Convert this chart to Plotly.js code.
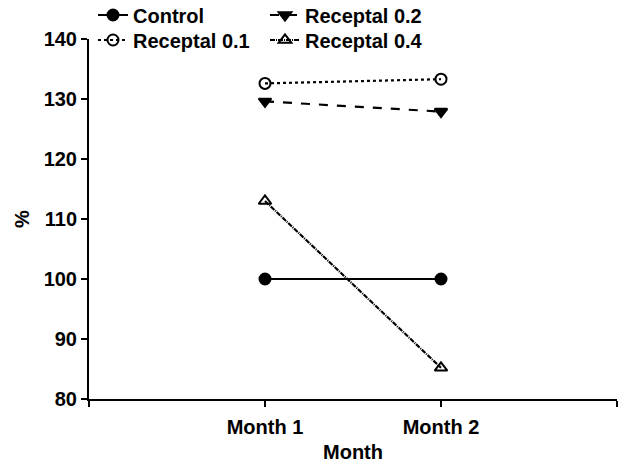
<!DOCTYPE html>
<html>
<head>
<meta charset="utf-8">
<script src="https://cdn.plot.ly/plotly-3.0.1.min.js"></script>
<style>html,body{margin:0;padding:0;background:#fff;}#chart{width:618px;height:466px;}</style>
</head>
<body>
<div id="chart"></div>
<script>
const months = ["Month 1", "Month 2"];
const control = [100, 100];
const receptal01 = [132.6, 133.3];
const receptal02 = [129.6, 127.9];
const receptal04 = [113.0, 85.2];
const yTicks = [80, 90, 100, 110, 120, 130, 140];

const xIdx = months.map((_, i) => i);
const FONT = {family: "Arial, 'Liberation Sans', sans-serif", size: 20, color: "#000", weight: "bold"};

function tr(name, y, dash, symbol, legend) {
  return {
    x: xIdx, y: y, name: name, type: "scatter", mode: "lines+markers",
    line: {color: "#000", width: 2.2, dash: dash},
    marker: {symbol: symbol, size: 11, color: "#000", line: {color: "#000", width: 2}},
    legend: legend
  };
}

const data = [
  tr("Control", control, "solid", "circle", "legend"),
  tr("Receptal 0.2", receptal02, "dash", "triangle-down", "legend"),
  tr("Receptal 0.1", receptal01, "dot", "circle-open", "legend2"),
  tr("Receptal 0.4", receptal04, "5px,1px,1px,1px", "triangle-up-open", "legend2")
];

const legendBase = {
  orientation: "h", xref: "container", yref: "container", xanchor: "left", yanchor: "middle",
  x: 93/618, entrywidth: 127, itemwidth: 30, font: FONT,
  bgcolor: "rgba(0,0,0,0)", borderwidth: 0, tracegroupgap: 0
};

const layout = {
  width: 618, height: 466,
  margin: {l: 89, r: 1, t: 39, b: 67, autoexpand: false},
  paper_bgcolor: "#fff", plot_bgcolor: "#fff",
  font: FONT,
  showlegend: true,
  legend: Object.assign({}, legendBase, {y: 1 - 15/466}),
  legend2: Object.assign({}, legendBase, {y: 1 - 40/466}),
  xaxis: {
    range: [-1, 2], tickmode: "array", tickvals: [-1, 0, 1, 2], ticktext: ["", months[0], months[1], ""],
    showgrid: false, zeroline: false, showline: true, linecolor: "#000", linewidth: 2,
    ticks: "outside", ticklen: 6, tickwidth: 2, tickcolor: "#000", ticklabelstandoff: 3,
    tickfont: FONT, title: {text: "Month", font: FONT, standoff: 8}
  },
  yaxis: {
    range: [80, 140], tickmode: "array", tickvals: yTicks,
    showgrid: false, zeroline: false, showline: true, linecolor: "#000", linewidth: 2,
    ticks: "outside", ticklen: 6, tickwidth: 2, tickcolor: "#000",
    tickfont: FONT, title: {text: "%", font: FONT, standoff: 9}
  }
};

Plotly.newPlot("chart", data, layout, {displayModeBar: false, staticPlot: true});
</script>
</body>
</html>
